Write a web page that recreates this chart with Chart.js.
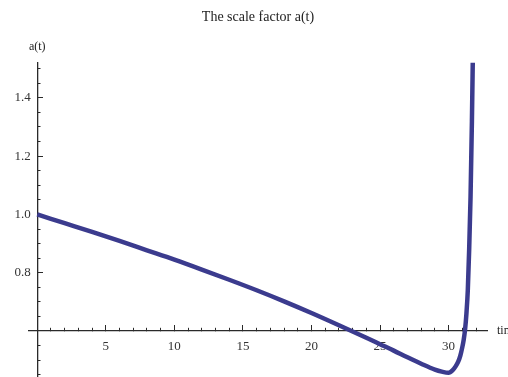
<!DOCTYPE html>
<html>
<head>
<meta charset="utf-8">
<script src="https://cdn.jsdelivr.net/npm/chart.js@4/dist/chart.umd.min.js"></script>
<style>
  html, body { margin: 0; padding: 0; background: #fff; }
  #wrap { width: 508px; height: 377px; }
</style>
</head>
<body>
<div id="wrap"><canvas id="graph_scale"></canvas></div>
<script>
'use strict';

// a(t) sampled along the curve
let timeValues  = [0, 2, 4, 6, 8, 10, 12, 14, 16, 18, 20, 22, 24, 25, 26, 27, 28, 29, 29.5, 30, 30.3, 30.5, 30.7, 30.85, 31, 31.1, 31.2, 31.3, 31.4, 31.5, 31.6, 31.7, 31.77, 31.8];
let scaleFactor = [1.0, 0.970, 0.940, 0.909, 0.877, 0.845, 0.811, 0.776, 0.740, 0.702, 0.662, 0.620, 0.577, 0.555, 0.533, 0.510, 0.488, 0.468, 0.461, 0.457, 0.466, 0.478, 0.495, 0.515, 0.545, 0.570, 0.605, 0.660, 0.740, 0.880, 1.060, 1.320, 1.550, 1.650];

// tick positions
let xMajorTicks = [5, 10, 15, 20, 25, 30];
let xMinorTicks = [1, 2, 3, 4, 5, 6, 7, 8, 9, 10, 11, 12, 13, 14, 15, 16, 17, 18, 19, 20, 21, 22, 23, 24, 25, 26, 27, 28, 29, 30, 31, 32];
let yMajorTicks = [0.8, 1.0, 1.2, 1.4];
let yMinorTicks = [0.45, 0.5, 0.55, 0.65, 0.7, 0.75, 0.8, 0.85, 0.9, 0.95, 1.0, 1.05, 1.1, 1.15, 1.2, 1.25, 1.3, 1.35, 1.4, 1.45, 1.5];

let axisColor = '#2a2a2a';
let serif = '"Liberation Serif", "DejaVu Serif", serif';

function setTicks(list) {
    return function (scale) {
        scale.ticks = list.map(v => ({ value: v }));
    };
}

// keep the crossing axes from eating into the plot area
function noPadding(scale) {
    scale.paddingTop = 0;
    scale.paddingBottom = 0;
    scale.paddingLeft = 0;
    scale.paddingRight = 0;
}

// axis names at the ends of the axes
let axisNames = {
    id: 'axisNames',
    afterDraw(chart) {
        let ctx = chart.ctx;
        let x = chart.scales.x;
        let y = chart.scales.y;
        ctx.save();
        ctx.fillStyle = '#222';
        ctx.font = '12px ' + serif;
        ctx.textBaseline = 'middle';
        ctx.textAlign = 'center';
        ctx.fillText('a(t)', x.getPixelForValue(0), chart.chartArea.top - 16);
        ctx.textAlign = 'left';
        ctx.fillText('time', chart.chartArea.right + 10, y.getPixelForValue(0.6));
        ctx.restore();
    }
};

window.onload = function () {
    let context = document.querySelector('#graph_scale').getContext('2d');
    let points = timeValues.map((t, i) => ({ x: t, y: scaleFactor[i] }));

    new Chart(context, {
        type: 'scatter',
        data: {
            datasets: [{
                data: points,
                showLine: true,
                borderColor: '#3b3b8e',
                borderWidth: 4.5,
                pointRadius: 0,
                cubicInterpolationMode: 'monotone',
                xAxisID: 'x',
                yAxisID: 'y'
            }]
        },
        plugins: [axisNames],
        options: {
            responsive: true,
            maintainAspectRatio: false,
            animation: false,
            layout: { padding: { left: 29, right: 21, top: 0, bottom: 0 } },
            plugins: {
                legend: { display: false },
                tooltip: { enabled: false },
                title: {
                    display: true,
                    text: 'The scale factor a(t)',
                    color: '#222',
                    font: { family: serif, size: 14, weight: 'normal' },
                    padding: { top: 9, bottom: 37 }
                }
            },
            scales: {
                x: {
                    type: 'linear',
                    min: -0.6,
                    max: 32.8,
                    position: { y: 0.6 },
                    afterBuildTicks: setTicks(xMinorTicks),
                    afterFit: noPadding,
                    ticks: { display: false },
                    grid: { drawOnChartArea: false, tickLength: -3.5, tickColor: axisColor, tickWidth: 1 },
                    border: { color: axisColor, width: 1.3 }
                },
                x2: {
                    type: 'linear',
                    axis: 'x',
                    min: -0.6,
                    max: 32.8,
                    position: { y: 0.6 },
                    afterBuildTicks: setTicks(xMajorTicks),
                    afterFit: noPadding,
                    ticks: { color: '#333', font: { family: serif, size: 13 }, padding: 14, maxRotation: 0, autoSkip: false },
                    grid: { drawOnChartArea: false, tickLength: -6, tickColor: axisColor, tickWidth: 1 },
                    border: { display: false }
                },
                y: {
                    type: 'linear',
                    min: 0.4425,
                    max: 1.52,
                    position: { x: 0 },
                    afterBuildTicks: setTicks(yMinorTicks),
                    afterFit: noPadding,
                    ticks: { display: false },
                    grid: { drawOnChartArea: false, tickLength: -3.5, tickColor: axisColor, tickWidth: 1 },
                    border: { color: axisColor, width: 1.3 }
                },
                y2: {
                    type: 'linear',
                    axis: 'y',
                    min: 0.4425,
                    max: 1.52,
                    position: { x: 0 },
                    afterBuildTicks: setTicks(yMajorTicks),
                    afterFit: noPadding,
                    ticks: {
                        color: '#333',
                        font: { family: serif, size: 13 },
                        autoSkip: false,
                        // labels sit flush on a positioned axis, so pad with an en space
                        callback: v => v.toFixed(1) + '\u2002'
                    },
                    grid: { drawOnChartArea: false, tickLength: -6, tickColor: axisColor, tickWidth: 1 },
                    border: { display: false }
                }
            }
        }
    });
};
</script>
</body>
</html>
